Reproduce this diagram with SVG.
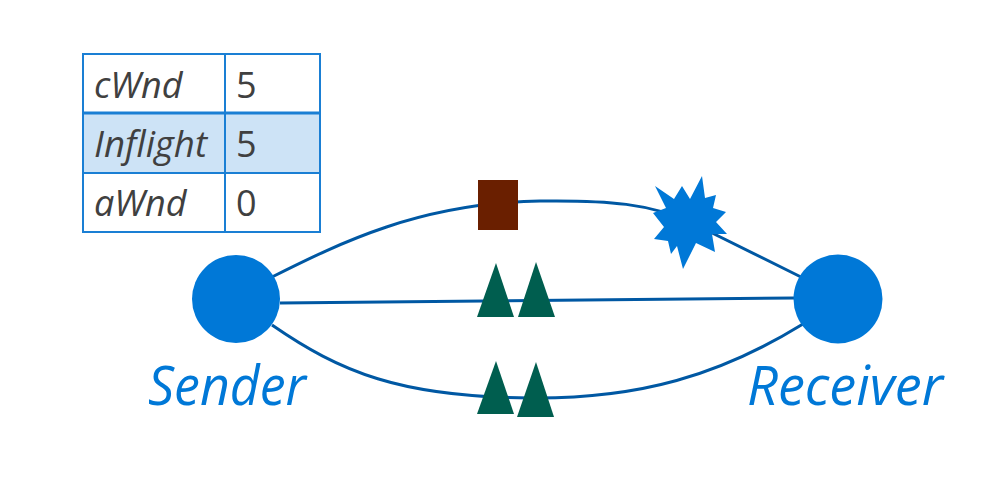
<svg xmlns="http://www.w3.org/2000/svg" width="989" height="480" viewBox="0 0 989 480">
<style>
.tt{font-family:"Open Sans","Noto Sans",sans-serif;font-style:italic;font-size:36px;fill:#404040}
.tv{font-family:"Open Sans","Noto Sans",sans-serif;font-size:36px;fill:#404040}
.node{fill:#0078d7}
.lbl{font-family:"Open Sans","Noto Sans",sans-serif;font-style:italic;font-size:54px;fill:#0078d7}
.link{fill:none;stroke:#0058a3;stroke-width:3}
.pkt{fill:#005e4f}
</style>
<rect width="989" height="480" fill="#ffffff"/>
<g id="table">
<rect x="83" y="113" width="237" height="60" fill="#cde3f6"/>
<rect x="83" y="54" width="237" height="178" fill="none" stroke="#1a7fd4" stroke-width="2"/>
<line x1="225" y1="54" x2="225" y2="232" stroke="#1a7fd4" stroke-width="2"/>
<line x1="83" y1="113" x2="320" y2="113" stroke="#1a7fd4" stroke-width="3"/>
<line x1="83" y1="173" x2="320" y2="173" stroke="#1a7fd4" stroke-width="2"/>
<text x="94" y="98" class="tt">cWnd</text>
<text x="236" y="98" class="tv">5</text>
<text x="94" y="157" class="tt" textLength="113" lengthAdjust="spacingAndGlyphs">Inflight</text>
<text x="236" y="157" class="tv">5</text>
<text x="94" y="216" class="tt">aWnd</text>
<text x="236" y="216" class="tv">0</text>
</g>
<g id="connectors">
<path class="link" d="M272,277 C340,243 420,203 540,201 C610,200 650,204 690,222 L803,278"/>
<path class="link" d="M280,303 L794,298"/>
<path class="link" d="M272,325 C340,372 400,397 530,398 C640,399 720,375 803,324"/>
</g>
<g id="sender">
<circle cx="236" cy="299" r="44" class="node"/>
<text x="148" y="405" class="lbl" textLength="158" lengthAdjust="spacingAndGlyphs">Sender</text>
</g>
<g id="receiver">
<circle cx="838" cy="299" r="44.5" class="node"/>
<text x="747" y="405" class="lbl" textLength="196" lengthAdjust="spacingAndGlyphs">Receiver</text>
</g>
<g id="packet-lost">
<rect x="478" y="180" width="40" height="50" fill="#6a1f00"/>
</g>
<g id="loss-burst">
<polygon fill="#0078d7" points="655,186 674,199 682,186 690,199 702,176 705,198 716,195 713,208 726,212 716,222 727,234 712,234 715,252 696,243 683,269 677,246 671,254 668,241 654,239 664,227 653,213 666,208"/>
</g>
<g id="packets-mid">
<polygon class="pkt" points="496,263 514,317 477,317"/>
<polygon class="pkt" points="536,262 555,317 518,317"/>
</g>
<g id="packets-bottom">
<polygon class="pkt" points="496,361 514,414 477,414"/>
<polygon class="pkt" points="536,362 554,417 517,417"/>
</g>
</svg>
